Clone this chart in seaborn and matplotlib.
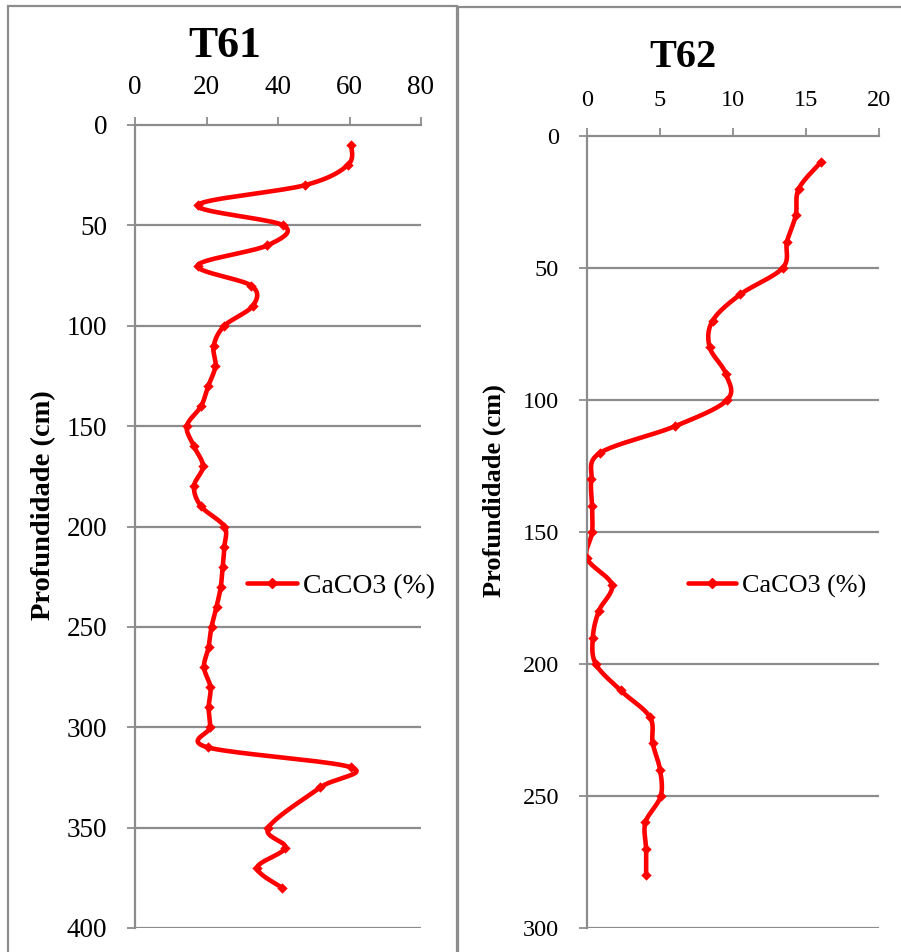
import numpy as np
import pandas as pd
import matplotlib
matplotlib.use("Agg")
import matplotlib.pyplot as plt
from matplotlib.patches import Rectangle
from matplotlib.lines import Line2D
import seaborn as sns

# ---- data ----
t61_depth = [10, 20, 30, 40, 50, 60, 70, 80, 90, 100, 110, 120, 130, 140, 150, 160, 170, 180, 190, 200,
             210, 220, 230, 240, 250, 260, 270, 280, 290, 300, 310, 320, 330, 350, 360, 370, 380]
t61_caco3 = [60.5, 59.5, 47.5, 17.5, 41.5, 37.0, 17.5, 32.5, 33.0, 25.0, 22.0, 22.5, 20.5, 18.5, 14.5, 16.5, 19.0, 16.5, 18.5, 25.0,
             25.0, 24.5, 24.0, 22.8, 21.4, 20.6, 19.3, 21.1, 20.6, 21.0, 20.3, 60.5, 51.8, 37.3, 42.0, 34.2, 41.2]

t62_depth = [10, 20, 30, 40, 50, 60, 70, 80, 90, 100, 110, 120, 130, 140, 150, 160, 170, 180, 190, 200,
             210, 220, 230, 240, 250, 260, 270, 280]
t62_caco3 = [16.0, 14.5, 14.3, 13.7, 13.4, 10.5, 8.6, 8.4, 9.5, 9.6, 6.0, 0.9, 0.3, 0.35, 0.35, 0.0, 1.7, 0.8, 0.4, 0.6,
             2.3, 4.3, 4.5, 5.0, 5.05, 4.0, 4.05, 4.05]

titles = ["T61", "T62"]
ylabel = "Profundidade (cm)"
legend_label = "CaCO3 (%)"


def smooth(x, y, n=20):
    """Catmull-Rom spline through the points (like Excel smoothed line)."""
    x = np.asarray(x, float)
    y = np.asarray(y, float)
    px = np.concatenate([[x[0]], x, [x[-1]]])
    py = np.concatenate([[y[0]], y, [y[-1]]])
    xs, ys = [], []
    t = np.linspace(0, 1, n, endpoint=False)
    for i in range(1, len(px) - 2):
        for arr, out in ((px, xs), (py, ys)):
            p0, p1, p2, p3 = arr[i - 1], arr[i], arr[i + 1], arr[i + 2]
            out.extend(0.5 * ((2 * p1) + (-p0 + p2) * t + (2 * p0 - 5 * p1 + 4 * p2 - p3) * t ** 2
                              + (-p0 + 3 * p1 - 3 * p2 + p3) * t ** 3))
    xs.append(x[-1]); ys.append(y[-1])
    return np.array(xs), np.array(ys)


sns.set_theme(style="white")
plt.rcParams["font.family"] = ["Liberation Serif", "DejaVu Serif"]
plt.rcParams["text.color"] = "black"
plt.rcParams["axes.labelcolor"] = "black"
plt.rcParams["xtick.color"] = "black"
plt.rcParams["ytick.color"] = "black"

W, H = 901, 952
fig = plt.figure(figsize=(W / 100, H / 100), dpi=100)

gray = "#8c8c8c"

# panel frames
fig.add_artist(Rectangle((8 / W, -0.05), (457 - 8) / W, 1.05 - 6 / H, transform=fig.transFigure,
                         fill=False, edgecolor=gray, lw=1.6))
fig.add_artist(Rectangle((458 / W, -0.05), 0.6, 1.05 - 7 / H, transform=fig.transFigure,
                         fill=False, edgecolor=gray, lw=1.6))

panels = [
    dict(depth=t61_depth, val=t61_caco3, rect=(135, 125, 421, 928), xlim=80, xticks=[0, 20, 40, 60, 80],
         ylim=400, yticks=list(range(0, 401, 50)), fs=19.5, tfs=31.5, lfs=20.5, legfs=20, hl=1.8,
         title_xy=(225, 57), ylab_xy=(44, 505), leg_xy=(247, 586)),
    dict(depth=t62_depth, val=t62_caco3, rect=(587, 136, 879, 928), xlim=20, xticks=[0, 5, 10, 15, 20],
         ylim=300, yticks=list(range(0, 301, 50)), fs=17.5, tfs=29, lfs=19, legfs=18.8, hl=1.85,
         title_xy=(683, 67), ylab_xy=(494, 491), leg_xy=(688, 586)),
]

for p, title in zip(panels, titles):
    l, t, r, b = p["rect"]
    ax = fig.add_axes([l / W, 1 - b / H, (r - l) / W, (b - t) / H])
    ax.set_facecolor("none")
    df = pd.DataFrame({"CaCO3": p["val"], "depth": p["depth"]})
    sx, sy = smooth(df["CaCO3"], df["depth"])
    sns.lineplot(x=sx, y=sy, sort=False, ax=ax, color="red", lw=3.3, estimator=None)
    sns.scatterplot(data=df, x="CaCO3", y="depth", ax=ax, color="red", marker="D", s=28,
                    edgecolor="red", linewidth=0, zorder=5)
    ax.set_xlim(0, p["xlim"])
    ax.set_ylim(p["ylim"], 0)
    ax.set_xticks(p["xticks"])
    ax.set_yticks(p["yticks"])
    ax.xaxis.tick_top()
    ax.set_xlabel("")
    ax.set_ylabel("")
    ax.tick_params(axis="x", top=True, bottom=False, direction="out", length=6, width=1.3, color=gray,
                   pad=12, labelsize=p["fs"], labelcolor="black")
    ax.tick_params(axis="y", left=True, direction="out", length=6, width=1.3, color=gray,
                   pad=14, labelsize=p["fs"], labelcolor="black")
    for s in ["right", "bottom"]:
        ax.spines[s].set_visible(False)
    for s in ["left", "top"]:
        ax.spines[s].set_color(gray)
        ax.spines[s].set_linewidth(1.6)
    ax.grid(False)
    for yv in p["yticks"][1:]:
        ax.axhline(yv, color=gray, lw=1.6, zorder=0)

    fig.text(p["title_xy"][0] / W, 1 - p["title_xy"][1] / H, title, ha="center", va="baseline",
             fontsize=p["tfs"], fontweight="bold", color="black")
    fig.text(p["ylab_xy"][0] / W, 1 - p["ylab_xy"][1] / H, ylabel, ha="center", va="center",
             rotation=90, fontsize=p["lfs"], fontweight="bold", color="black")
    handle = Line2D([], [], color="red", lw=3.3, marker="D", markersize=5)
    lx, ly = p["leg_xy"]
    leg = ax.legend([handle], [legend_label], loc="center left", bbox_to_anchor=(lx / W, 1 - ly / H),
                    bbox_transform=fig.transFigure, frameon=False, fontsize=p["legfs"], handlelength=p["hl"],
                    handletextpad=0.2, borderpad=0, borderaxespad=0)
    for txt in leg.get_texts():
        txt.set_color("black")

fig.savefig("out.png", dpi=100)
